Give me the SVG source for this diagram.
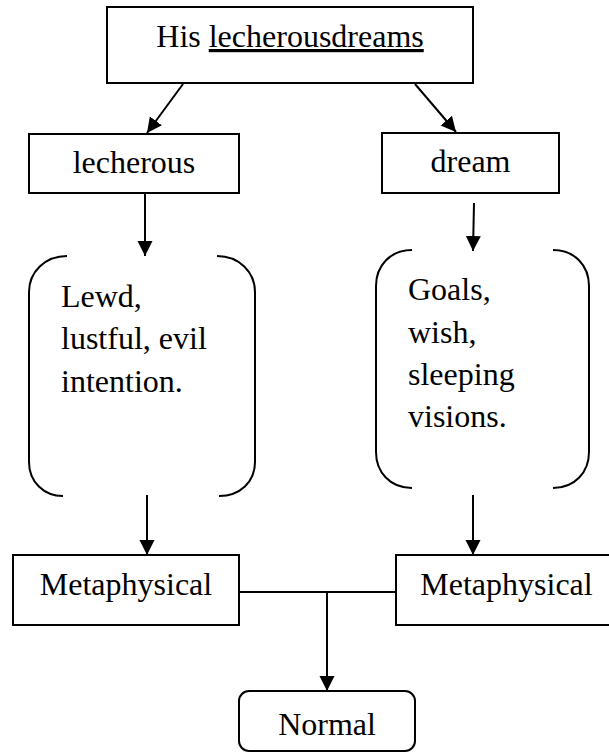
<svg xmlns="http://www.w3.org/2000/svg" width="609" height="753" viewBox="0 0 609 753">
  <style>
    .box { fill: #fff; stroke: #000; stroke-width: 2; }
    .brk { fill: none; stroke: #000; stroke-width: 2; }
    .lbl { font-family: "Liberation Serif", "Times New Roman", serif; font-size: 32px; fill: #000; }
    .mid { text-anchor: middle; }
    .edge { fill: none; stroke: #000; stroke-width: 2; }
    .arr { marker-end: url(#head); }
  </style>
  <defs>
    <marker id="head" markerUnits="userSpaceOnUse" markerWidth="16" markerHeight="16" refX="15" refY="7.5" orient="auto">
      <path d="M0,0 L15,7.5 L0,15 Z" fill="#000"/>
    </marker>
  </defs>

  <rect width="609" height="753" fill="#fff"/>

  <!-- connectors -->
  <g id="connectors">
    <line class="edge arr" x1="183" y1="84" x2="147" y2="133"/>
    <line class="edge arr" x1="415" y1="84" x2="456" y2="132"/>
    <line class="edge arr" x1="145" y1="193" x2="145" y2="256"/>
    <line class="edge arr" x1="474" y1="203" x2="473" y2="251"/>
    <line class="edge arr" x1="147" y1="495" x2="147" y2="555"/>
    <line class="edge arr" x1="473" y1="495" x2="473" y2="555"/>
    <line class="edge" x1="239" y1="592" x2="396" y2="592"/>
    <line class="edge arr" x1="327" y1="592" x2="327" y2="691"/>
  </g>

  <!-- root phrase -->
  <g id="phrase">
    <rect class="box" x="107" y="7" width="366" height="76"/>
    <text class="lbl mid" x="290" y="47">His <tspan style="text-decoration: underline">lecherousdreams</tspan></text>
  </g>

  <g id="word-lecherous">
    <rect class="box" x="29" y="134" width="210" height="59"/>
    <text class="lbl mid" x="134" y="173">lecherous</text>
  </g>

  <g id="word-dream">
    <rect class="box" x="382" y="133" width="177" height="60"/>
    <text class="lbl mid" x="470.5" y="172">dream</text>
  </g>

  <!-- meanings in brackets -->
  <g id="meaning-lecherous">
    <path class="brk" d="M67,256 C45,256 29,272 29,292 L29,462 C29,482 44,496 63,496"/>
    <path class="brk" d="M217,256 C239,256 255,272 255,292 L255,462 C255,482 240,496 219,496"/>
    <text class="lbl" x="61" y="307">Lewd,</text>
    <text class="lbl" x="61" y="349">lustful, evil</text>
    <text class="lbl" x="61" y="392">intention.</text>
  </g>

  <g id="meaning-dream">
    <path class="brk" d="M412,250 C390,250 376,266 376,286 L376,452 C376,472 390,488 412,488"/>
    <path class="brk" d="M553,250 C575,250 589,266 589,286 L589,452 C589,472 575,488 553,488"/>
    <text class="lbl" x="408" y="300">Goals,</text>
    <text class="lbl" x="408" y="343">wish,</text>
    <text class="lbl" x="408" y="385">sleeping</text>
    <text class="lbl" x="408" y="427">visions.</text>
  </g>

  <g id="type-left">
    <rect class="box" x="13" y="555" width="226" height="70"/>
    <text class="lbl mid" x="126" y="595">Metaphysical</text>
  </g>

  <g id="type-right">
    <rect class="box" x="396" y="555" width="221" height="70"/>
    <text class="lbl mid" x="506.5" y="595">Metaphysical</text>
  </g>

  <g id="result">
    <rect class="box" x="239" y="691" width="176" height="60" rx="10" ry="10"/>
    <text class="lbl mid" x="327" y="735">Normal</text>
  </g>
</svg>
